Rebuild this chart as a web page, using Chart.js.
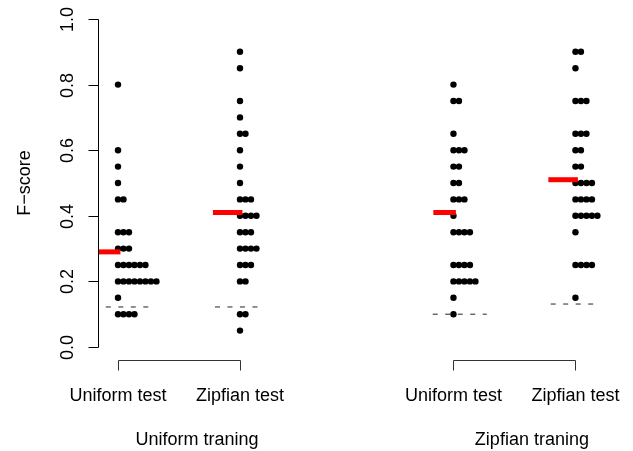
<!DOCTYPE html>
<html>
<head>
<meta charset="utf-8">
<script src="https://cdn.jsdelivr.net/npm/chart.js@4/dist/chart.umd.min.js"></script>
<style>
  html, body { margin: 0; padding: 0; background: #fff; }
  #wrap { width: 633px; height: 451px; position: relative; }
</style>
</head>
<body>
<div id="wrap"><canvas id="c"></canvas></div>
<script>
// ---------------- DATA ----------------
const testLabels = ["Uniform test", "Zipfian test", "Uniform test", "Zipfian test"];
const trainingLabels = ["Uniform traning", "Zipfian traning"];
const yTicks = [0.0, 0.2, 0.4, 0.6, 0.8, 1.0];

// F-scores per condition (one entry per run)
const uniTrainUniTest = [0.8, 0.6, 0.55, 0.5, 0.45, 0.45, 0.35, 0.35, 0.35, 0.3, 0.3, 0.3,
  0.25, 0.25, 0.25, 0.25, 0.25, 0.25, 0.2, 0.2, 0.2, 0.2, 0.2, 0.2, 0.2, 0.2, 0.15,
  0.1, 0.1, 0.1, 0.1];
const uniTrainZipfTest = [0.9, 0.85, 0.75, 0.7, 0.65, 0.65, 0.6, 0.55, 0.5, 0.45, 0.45, 0.45,
  0.4, 0.4, 0.4, 0.4, 0.35, 0.35, 0.35, 0.3, 0.3, 0.3, 0.3, 0.25, 0.25, 0.25,
  0.2, 0.2, 0.1, 0.1, 0.05];
const zipfTrainUniTest = [0.8, 0.75, 0.75, 0.65, 0.6, 0.6, 0.6, 0.55, 0.55, 0.5, 0.5,
  0.45, 0.45, 0.45, 0.4, 0.35, 0.35, 0.35, 0.35, 0.25, 0.25, 0.25, 0.25,
  0.2, 0.2, 0.2, 0.2, 0.2, 0.15, 0.1];
const zipfTrainZipfTest = [0.9, 0.9, 0.85, 0.75, 0.75, 0.75, 0.65, 0.65, 0.65, 0.6, 0.6,
  0.55, 0.55, 0.5, 0.5, 0.5, 0.5, 0.45, 0.45, 0.45, 0.45, 0.4, 0.4, 0.4, 0.4, 0.4,
  0.35, 0.25, 0.25, 0.25, 0.25, 0.15];

const means = [0.29, 0.41, 0.41, 0.51];      // red bars
const baselines = [0.122, 0.122, 0.10, 0.131]; // dashed lines

// ---------------- LAYOUT / STYLE ----------------
const groupPos = [1, 2, 3.75, 4.75];
const STACK_STEP = 0.045;
const meanLeft = [0.165, 0.222, 0.165, 0.222];
const meanRight = 0.02;
const baseExtent = [[-0.10, 0.255], [-0.205, 0.15], [-0.17, 0.273], [-0.203, 0.153]];
const trainingLabelPos = [1.648, 4.393];
const FONT = '18px "Liberation Sans", Arial, Helvetica, sans-serif';

const series = [uniTrainUniTest, uniTrainZipfTest, zipfTrainUniTest, zipfTrainZipfTest];

function stack(values, pos) {
  const counts = {};
  return values.map(v => {
    const key = v.toFixed(3);
    const k = counts[key] || 0;
    counts[key] = k + 1;
    return { x: pos + k * STACK_STEP, y: v };
  });
}

const datasets = [];
// mean bars (on top)
means.forEach((m, i) => {
  datasets.push({
    type: 'scatter', showLine: true, order: 0,
    data: [{ x: groupPos[i] - meanLeft[i], y: m }, { x: groupPos[i] + meanRight, y: m }],
    borderColor: '#ff0000', borderWidth: 5, pointRadius: 0, borderCapStyle: 'butt'
  });
});
// baselines
baselines.forEach((b, i) => {
  datasets.push({
    type: 'scatter', showLine: true, order: 2,
    data: [{ x: groupPos[i] + baseExtent[i][0], y: b }, { x: groupPos[i] + baseExtent[i][1], y: b }],
    borderColor: '#222', borderWidth: 1, borderDash: [5, 7.5], pointRadius: 0
  });
});
// dots
series.forEach((vals, i) => {
  datasets.push({
    type: 'scatter', order: 1,
    data: stack(vals, groupPos[i]),
    backgroundColor: '#000', borderWidth: 0, pointRadius: 3.2, pointHoverRadius: 3.2
  });
});

const axesPlugin = {
  id: 'rAxes',
  afterDraw(chart) {
    const { ctx, chartArea, scales } = chart;
    const xs = scales.x, ys = scales.y;
    ctx.save();
    ctx.strokeStyle = '#000';
    ctx.lineWidth = 1;
    ctx.fillStyle = '#000';
    ctx.font = FONT;
    // y axis line
    const ax = Math.round(chartArea.left) + 0.5;
    ctx.beginPath();
    ctx.moveTo(ax, Math.round(ys.getPixelForValue(0)) + 0.5);
    ctx.lineTo(ax, Math.round(ys.getPixelForValue(1)) + 0.5);
    ctx.stroke();
    // ticks + rotated labels
    yTicks.forEach(t => {
      const py = Math.round(ys.getPixelForValue(t)) + 0.5;
      ctx.beginPath();
      ctx.moveTo(ax, py);
      ctx.lineTo(ax - 10, py);
      ctx.stroke();
      ctx.save();
      ctx.translate(ax - 26, py);
      ctx.rotate(-Math.PI / 2);
      ctx.textAlign = 'center';
      ctx.textBaseline = 'alphabetic';
      ctx.fillText(t.toFixed(1), 0, 0);
      ctx.restore();
    });
    // y title
    ctx.save();
    ctx.translate(30, (chartArea.top + chartArea.bottom) / 2);
    ctx.rotate(-Math.PI / 2);
    ctx.textAlign = 'center';
    ctx.fillText('F\u2212score', 0, 0);
    ctx.restore();
    // brackets
    ctx.strokeStyle = '#333';
    const by = Math.round(chartArea.bottom) + 13.5;
    for (let g = 0; g < 2; g++) {
      const x1 = Math.round(xs.getPixelForValue(groupPos[2 * g])) + 0.5;
      const x2 = Math.round(xs.getPixelForValue(groupPos[2 * g + 1])) + 0.5;
      ctx.beginPath();
      ctx.moveTo(x1, by + 10);
      ctx.lineTo(x1, by);
      ctx.lineTo(x2, by);
      ctx.lineTo(x2, by + 10);
      ctx.stroke();
    }
    // test labels
    ctx.textAlign = 'center';
    ctx.textBaseline = 'alphabetic';
    testLabels.forEach((l, i) => {
      ctx.fillText(l, xs.getPixelForValue(groupPos[i]), chartArea.bottom + 54);
    });
    trainingLabels.forEach((l, i) => {
      ctx.fillText(l, xs.getPixelForValue(trainingLabelPos[i]), chartArea.bottom + 98);
    });
    ctx.restore();
  }
};

new Chart(document.getElementById('c'), {
  type: 'scatter',
  data: { datasets },
  options: {
    responsive: true,
    maintainAspectRatio: false,
    animation: false,
    events: [],
    layout: { padding: { left: 98, right: 14, top: 19, bottom: 104 } },
    plugins: { legend: { display: false }, tooltip: { enabled: false } },
    scales: {
      x: { type: 'linear', min: 0.836, max: 5.107, display: false },
      y: { type: 'linear', min: 0, max: 1, display: false }
    }
  },
  plugins: [axesPlugin]
});
</script>
</body>
</html>
